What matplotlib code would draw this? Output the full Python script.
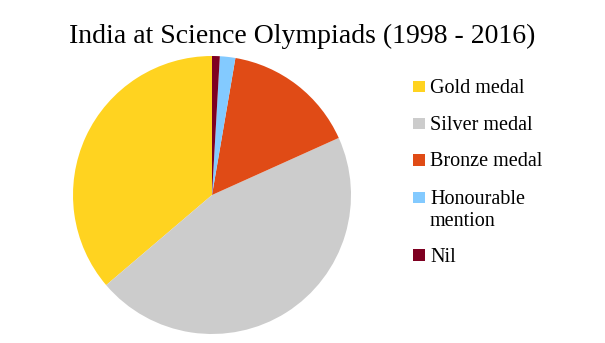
import matplotlib
matplotlib.use('Agg')
import matplotlib.pyplot as plt
from matplotlib.patches import Rectangle

# Medal counts
categories = ['Gold medal', 'Silver medal', 'Bronze medal', 'Honourable\nmention', 'Nil']
counts = [121, 152, 52, 6, 3]
colors = ['#FFD320', '#CCCCCC', '#E04B16', '#83CAFF', '#7E0021']

plt.rcParams['font.family'] = ['Liberation Serif', 'DejaVu Serif']

W, H = 605, 343
fig = plt.figure(figsize=(W / 100, H / 100), dpi=100)

# pie centre ~ (212, 195) px, radius ~139 px
cx, cy, r = 212, 195, 139
ax = fig.add_axes([(cx - r) / W, (H - cy - r) / H, 2 * r / W, 2 * r / H])
wedges, _ = ax.pie(counts, colors=colors, startangle=90, counterclock=True,
                   wedgeprops={'linewidth': 0})
ax.set_xlim(-1, 1)
ax.set_ylim(-1, 1)
ax.set_aspect('equal')

fig.text(302 / W, 1 - 36 / H, 'India at Science Olympiads (1998 - 2016)',
         ha='center', va='center', fontsize=20)

# legend drawn by hand in pixel coords so the square sits on the first line
lax = fig.add_axes([0, 0, 1, 1])
lax.set_xlim(0, W)
lax.set_ylim(H, 0)
lax.axis('off')
row_y = [86.5, 123.5, 160, 197.5, 255]
sq = 11.7
for w, label, y in zip(wedges, categories, row_y):
    lax.add_patch(Rectangle((413.3, y - sq / 2), sq, sq, facecolor=w.get_facecolor(),
                            edgecolor='none'))
    lax.text(430, y - 7.5, label, fontsize=14.5, va='top', ha='left',
             linespacing=1.25)

fig.savefig('out.png', dpi=100)
